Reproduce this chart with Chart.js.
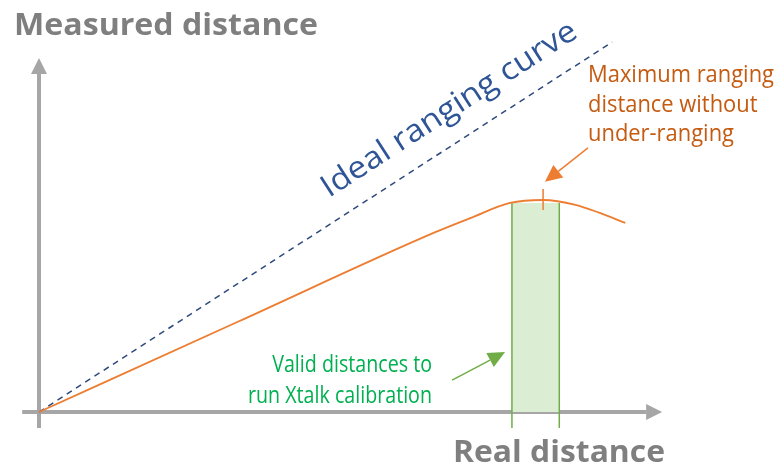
<!DOCTYPE html>
<html>
<head>
<meta charset="utf-8">
<script src="https://cdn.jsdelivr.net/npm/chart.js@4.4.0/dist/chart.umd.min.js"></script>
<style>
body { margin: 0; background: #fff; }
</style>
</head>
<body>
<canvas id="chart" width="778" height="469"></canvas>
<script>
// measured vs real distance (arbitrary units, 0..100)
var realDistance = [0, 32, 63.6, 69.2, 75.6, 80.9, 86.1, 90.0, 94.1];
var measuredDistance = [0, 24.45, 48.6, 52.4, 56.5, 57.3, 56.0, 53.8, 51.1];
var idealX = [0, 92];
var idealY = [0, 100];
var validRange = [75.9, 83.5];
var validTop = 56.5;
var validBottom = -4.3;
var peakX = 80.9;
var peakTick = [54.6, 60.3];
var maxArrow = [[88.1, 71.4], [81.2, 62.2]];
var validArrow = [[66.3, 8.6], [74.8, 16.2]];
var axisStart = [-2.7, -4.3];
var axisEnd = [100, 95.7];

var yTitle = 'Measured distance';
var xTitle = 'Real distance';
var idealLabel = 'Ideal ranging curve';
var maxLabel = ['Maximum ranging', 'distance without', 'under-ranging'];
var validLabel = ['Valid distances to', 'run Xtalk calibration'];

var FONT = '"Open Sans", "Noto Sans", sans-serif';

var toPoints = function (xs, ys) {
    return xs.map(function (x, i) { return { x: x, y: ys[i] }; });
};

// draws text at a given size, squeezed horizontally so that refText spans width
var squeezeText = function (ctx, text, refText, x, y, weight, size, width, align) {
    ctx.save();
    ctx.font = weight + ' ' + size + 'px ' + FONT;
    var k = width / ctx.measureText(refText).width;
    ctx.textAlign = align;
    ctx.translate(x, y);
    ctx.scale(k, 1);
    ctx.fillText(text, 0, 0);
    ctx.restore();
};

var arrow = function (ctx, x1, y1, x2, y2, color, lw, len, half) {
    var a = Math.atan2(y2 - y1, x2 - x1);
    var bx = x2 - len * Math.cos(a), by = y2 - len * Math.sin(a);
    ctx.strokeStyle = color;
    ctx.fillStyle = color;
    ctx.lineWidth = lw;
    ctx.beginPath();
    ctx.moveTo(x1, y1);
    ctx.lineTo(bx, by);
    ctx.stroke();
    ctx.beginPath();
    ctx.moveTo(x2, y2);
    ctx.lineTo(bx + half * Math.sin(a), by - half * Math.cos(a));
    ctx.lineTo(bx - half * Math.sin(a), by + half * Math.cos(a));
    ctx.closePath();
    ctx.fill();
};

var axesPlugin = {
    id: 'axesPlugin',
    beforeDatasetsDraw: function (chart) {
        var ctx = chart.ctx, xs = chart.scales.x, ys = chart.scales.y;
        var x0 = xs.getPixelForValue(0), y0 = ys.getPixelForValue(0);
        ctx.save();
        arrow(ctx, xs.getPixelForValue(axisStart[0]), y0, xs.getPixelForValue(axisEnd[0]), y0, '#a6a6a6', 4, 16, 8);
        arrow(ctx, x0, ys.getPixelForValue(axisStart[1]), x0, ys.getPixelForValue(axisEnd[1]), '#a6a6a6', 4, 16, 8);
        ctx.restore();
    },
    afterDatasetsDraw: function (chart) {
        var ctx = chart.ctx, xs = chart.scales.x, ys = chart.scales.y;
        var px = function (v) { return xs.getPixelForValue(v); };
        var py = function (v) { return ys.getPixelForValue(v); };
        ctx.save();

        // peak tick
        ctx.strokeStyle = '#ed7d31';
        ctx.lineWidth = 1.5;
        ctx.beginPath();
        ctx.moveTo(px(peakX), py(peakTick[0]));
        ctx.lineTo(px(peakX), py(peakTick[1]));
        ctx.stroke();

        arrow(ctx, px(maxArrow[0][0]), py(maxArrow[0][1]), px(maxArrow[1][0]), py(maxArrow[1][1]), '#ed7d31', 1.5, 17, 8);
        arrow(ctx, px(validArrow[0][0]), py(validArrow[0][1]), px(validArrow[1][0]), py(validArrow[1][1]), '#70ad47', 1.5, 17, 8);

        ctx.textBaseline = 'alphabetic';

        ctx.fillStyle = '#7f7f7f';
        squeezeText(ctx, yTitle, yTitle, 14, 35, 'bold', 30, 304, 'left');
        squeezeText(ctx, xTitle, xTitle, 453, 462, 'bold', 30, 212, 'left');

        ctx.fillStyle = '#c55a11';
        maxLabel.forEach(function (t, i) {
            squeezeText(ctx, t, maxLabel[0], 588, 82 + i * 29.5, 'normal', 23.5, 186, 'left');
        });

        ctx.fillStyle = '#00b050';
        validLabel.forEach(function (t, i) {
            squeezeText(ctx, t, validLabel[1], 432, 372 + i * 31, 'normal', 23, 184, 'right');
        });

        ctx.fillStyle = '#2f5597';
        ctx.translate(329, 198);
        ctx.rotate(-Math.atan2(163, 252));
        squeezeText(ctx, idealLabel, idealLabel, 0, 0, 'normal', 31, 298, 'left');

        ctx.restore();
    }
};

var chart = new Chart(document.getElementById('chart'), {
    type: 'line',
    data: {
        datasets: [
            {
                data: toPoints(realDistance, measuredDistance),
                borderColor: '#ed7d31',
                borderWidth: 1.8,
                cubicInterpolationMode: 'monotone',
                pointRadius: 0,
                order: 1
            },
            {
                data: toPoints(idealX, idealY),
                borderColor: '#2e4a7d',
                borderWidth: 1.5,
                borderDash: [6, 5],
                pointRadius: 0,
                order: 2
            },
            {
                data: toPoints([validRange[0], validRange[0]], [validBottom, validTop]),
                borderColor: '#70ad47',
                borderWidth: 1.5,
                pointRadius: 0,
                order: 3
            },
            {
                data: toPoints([validRange[1], validRange[1]], [validBottom, validTop]),
                borderColor: '#70ad47',
                borderWidth: 1.5,
                pointRadius: 0,
                order: 3
            },
            {
                data: toPoints(validRange, [validTop, validTop]),
                borderWidth: 0,
                backgroundColor: '#dbedd3',
                fill: 'origin',
                pointRadius: 0,
                order: 4
            }
        ]
    },
    options: {
        responsive: false,
        animation: false,
        layout: { padding: 0 },
        plugins: { legend: { display: false }, tooltip: { enabled: false } },
        scales: {
            x: { type: 'linear', min: -6.26, max: 118.6, display: false },
            y: { type: 'linear', min: -15.4, max: 111.35, display: false }
        }
    },
    plugins: [axesPlugin]
});
</script>
</body>
</html>
